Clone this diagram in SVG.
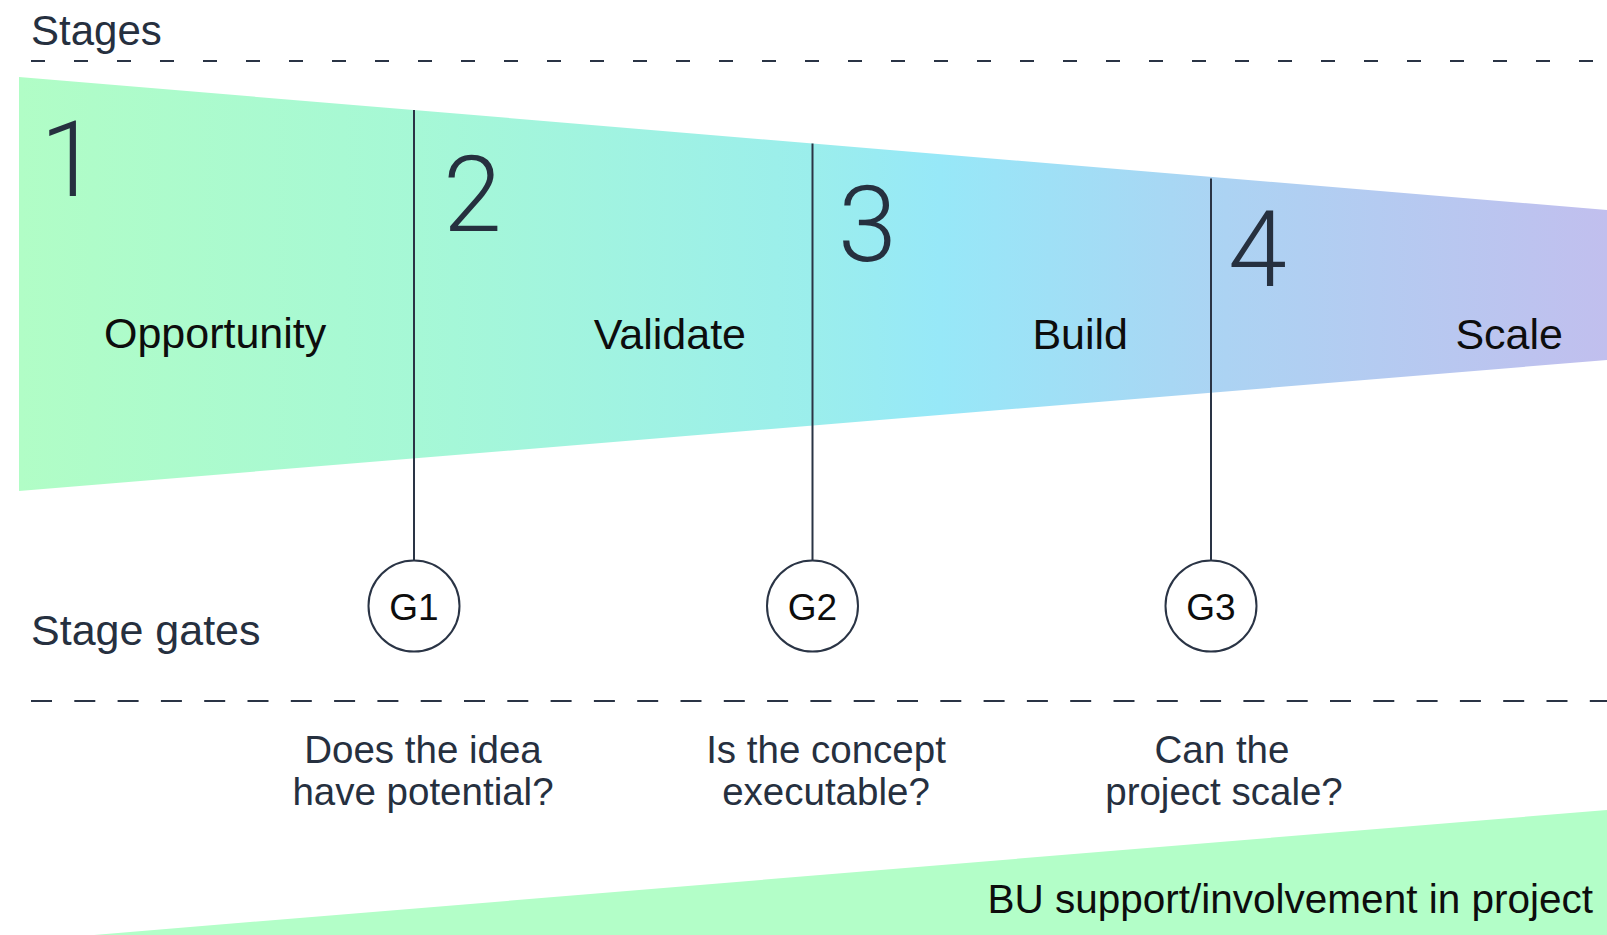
<svg xmlns="http://www.w3.org/2000/svg" width="1607" height="935" viewBox="0 0 1607 935">
  <defs>
    <linearGradient id="funnelGrad" gradientUnits="userSpaceOnUse" x1="19" y1="0" x2="1607" y2="0">
      <stop offset="0" stop-color="#b1fdc6"/>
      <stop offset="0.25" stop-color="#a6f8d6"/>
      <stop offset="0.5" stop-color="#9beeec"/>
      <stop offset="0.58" stop-color="#97e8f8"/>
      <stop offset="0.76" stop-color="#acd3f3"/>
      <stop offset="1" stop-color="#c1bfee"/>
    </linearGradient>
  </defs>
  <style>
    .lbl { font-family: "Liberation Sans", Arial, sans-serif; fill: #26303f; }
    .dark { font-family: "Liberation Sans", Arial, sans-serif; fill: #0d0d0d; }
    .num { font-family: Roboto, "Open Sans", "Liberation Sans", sans-serif; font-weight: 300; font-size: 106px; fill: #26303f; }
    .dash { stroke: #2a3445; stroke-width: 2; fill: none; }
    .gate-line { stroke: #2a3445; stroke-width: 2; }
    .gate { fill: #ffffff; stroke: #2a3445; stroke-width: 2; }
    .q { font-family: "Liberation Sans", Arial, sans-serif; font-size: 38.5px; fill: #26303f; text-anchor: middle; }
  </style>

  <g id="section-labels">
    <text class="lbl" x="31" y="45" font-size="42">Stages</text>
    <text class="lbl" x="31" y="645" font-size="43">Stage gates</text>
  </g>

  <g id="dividers">
    <line class="dash" x1="31" y1="61" x2="1607" y2="61" stroke-dasharray="14 29"/>
    <line class="dash" x1="31" y1="701" x2="1607" y2="701" stroke-dasharray="21 22.3"/>
  </g>

  <g id="funnel">
    <polygon points="19,77 1607,210 1607,360 19,491" fill="url(#funnelGrad)"/>
  </g>

  <g id="stage-1">
    <text class="num" x="40" y="196">1</text>
    <text class="dark" x="104" y="348" font-size="43">Opportunity</text>
  </g>
  <g id="stage-2">
    <text class="num" x="443" y="231">2</text>
    <text class="dark" x="746" y="349" font-size="43" text-anchor="end">Validate</text>
  </g>
  <g id="stage-3">
    <text class="num" x="838" y="261">3</text>
    <text class="dark" x="1128" y="349" font-size="43" text-anchor="end">Build</text>
  </g>
  <g id="stage-4">
    <text class="num" x="1228" y="286">4</text>
    <text class="dark" x="1563" y="349" font-size="43" text-anchor="end">Scale</text>
  </g>

  <g id="connectors">
    <line class="gate-line" x1="414" y1="110" x2="414" y2="560"/>
    <line class="gate-line" x1="812.5" y1="143.5" x2="812.5" y2="560"/>
    <line class="gate-line" x1="1211" y1="178.5" x2="1211" y2="560"/>
  </g>

  <g id="gate-G1">
    <circle class="gate" cx="414" cy="606" r="45.5"/>
    <text class="dark" x="414" y="620" font-size="37" text-anchor="middle">G1</text>
  </g>
  <g id="gate-G2">
    <circle class="gate" cx="812.5" cy="606" r="45.5"/>
    <text class="dark" x="812.5" y="620" font-size="37" text-anchor="middle">G2</text>
  </g>
  <g id="gate-G3">
    <circle class="gate" cx="1211" cy="606" r="45.5"/>
    <text class="dark" x="1211" y="620" font-size="37" text-anchor="middle">G3</text>
  </g>

  <g id="question-G1">
    <text class="q"><tspan x="423" y="763">Does the idea</tspan><tspan x="423" y="805">have potential?</tspan></text>
  </g>
  <g id="question-G2">
    <text class="q"><tspan x="826" y="763">Is the concept</tspan><tspan x="826" y="805">executable?</tspan></text>
  </g>
  <g id="question-G3">
    <text class="q"><tspan x="1222" y="763">Can the</tspan><tspan x="1224" y="805">project scale?</tspan></text>
  </g>

  <g id="bu-support">
    <polygon points="94,935 1607,810 1607,935" fill="#b3fec8"/>
    <text class="dark" x="1593" y="913" font-size="40.5" text-anchor="end">BU support/involvement in project</text>
  </g>
</svg>
